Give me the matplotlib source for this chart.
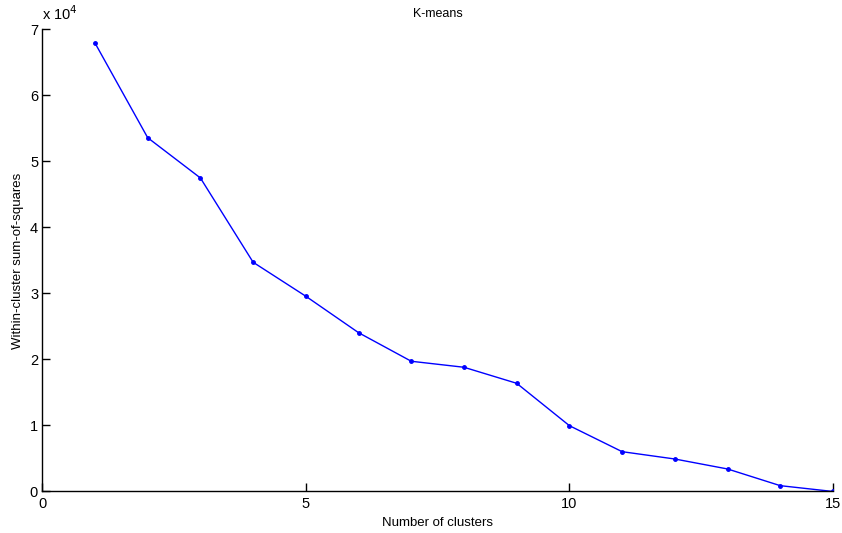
import matplotlib
matplotlib.use("Agg")
import matplotlib.pyplot as plt
from matplotlib.ticker import FuncFormatter

plt.rcParams['font.family'] = ['Liberation Sans', 'DejaVu Sans']

clusters = [1, 2, 3, 4, 5, 6, 7, 8, 9, 10, 11, 12, 13, 14, 15]
wcss = [67950, 53600, 47500, 34730, 29580, 24060, 19730, 18820, 16390,
        9970, 6030, 4920, 3410, 880, 0]
xticks = [0, 5, 10, 15]
yticks = [0, 10000, 20000, 30000, 40000, 50000, 60000, 70000]

fig = plt.figure(figsize=(8.42, 5.33), dpi=100)
ax = fig.add_axes([0.0502, 0.0779, 0.9391, 0.8668])

ax.plot(clusters, wcss, color='#0000ff', linewidth=1.0, marker='.',
        markersize=5)

ax.set_xlim(0, 15)
ax.set_ylim(0, 70000)
ax.set_xticks(xticks)
ax.set_yticks(yticks)
ax.yaxis.set_major_formatter(FuncFormatter(lambda v, p: f"{v/1e4:g}"))

for s in ['top', 'right']:
    ax.spines[s].set_visible(False)
for s in ['left', 'bottom']:
    ax.spines[s].set_linewidth(1.0)

ax.tick_params(direction='in', length=6, width=1, labelsize=10.5,
               colors='black', top=False, right=False)
ax.tick_params(axis='x', pad=4)
ax.tick_params(axis='y', pad=3)

ax.set_title('K-means', fontsize=9, pad=9)
ax.set_xlabel('Number of clusters', fontsize=9.5, labelpad=4)
ax.set_ylabel('Within-cluster sum-of-squares', fontsize=9.5, labelpad=4)

ax.text(0.0, 1.014, r'x 10$^{4}$', transform=ax.transAxes, fontsize=10.5,
        ha='left', va='bottom')

fig.savefig('out.png', dpi=100, facecolor='white')
